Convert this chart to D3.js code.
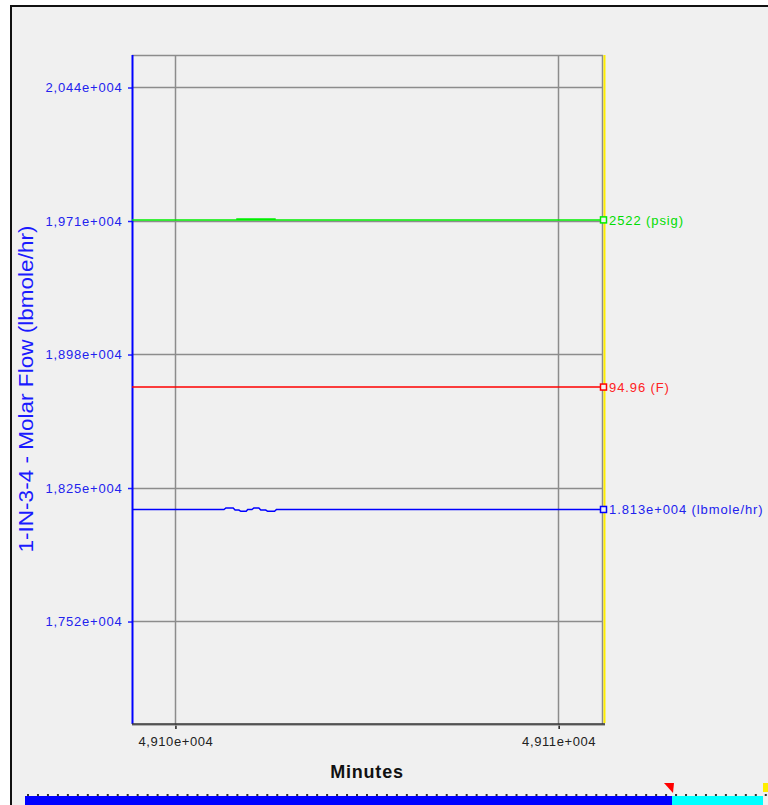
<!DOCTYPE html>
<html>
<head>
<meta charset="utf-8">
<script src="https://cdn.jsdelivr.net/npm/d3@7/dist/d3.min.js"></script>
<style>
  html, body { margin: 0; padding: 0; background: #ffffff; }
  svg { display: block; }
  text { font-family: "Liberation Sans", Arial, sans-serif; }
</style>
</head>
<body>
<svg id="chart" width="768" height="805"></svg>
<script>
// ---- data ----
const timeDomain = [49098.88, 49111.17];           // minutes shown in the window
const xTicks = [49100, 49110];
const xTickLabels = ["4,910e+004", "4,911e+004"];

const flowDomain = [16957, 20615];                  // lbmole/hr
const yTicks = [17520, 18250, 18980, 19710, 20440];
const yTickLabels = ["1,752e+004", "1,825e+004", "1,898e+004", "1,971e+004", "2,044e+004"];

// Molar flow (lbmole/hr)
const flowTimes  = [49098.88, 49101.28, 49101.33, 49101.52, 49101.57, 49101.67, 49101.72, 49101.86,
                    49101.90, 49102.01, 49102.06, 49102.19, 49102.24, 49102.37, 49102.42, 49102.60,
                    49102.65, 49111.17];
const flowValues = [18130, 18130, 18138, 18138, 18127, 18127, 18120, 18120,
                    18130, 18130, 18138, 18138, 18127, 18127, 18120, 18120,
                    18130, 18130];

// Pressure (psig): steady, with a short burst of fast flicker
const pressDomain = [0, 3347];
const pressTimes  = [49098.88,
  49101.62, 49101.62, 49101.65, 49101.65, 49101.68, 49101.68, 49101.71, 49101.71, 49101.74, 49101.74,
  49101.77, 49101.77, 49101.80, 49101.80, 49101.83, 49101.83, 49101.86, 49101.86, 49101.89, 49101.89,
  49101.92, 49101.92, 49101.95, 49101.95, 49101.98, 49101.98, 49102.01, 49102.01, 49102.04, 49102.04,
  49102.07, 49102.07, 49102.10, 49102.10, 49102.13, 49102.13, 49102.16, 49102.16, 49102.19, 49102.19,
  49102.22, 49102.22, 49102.25, 49102.25, 49102.28, 49102.28, 49102.31, 49102.31, 49102.34, 49102.34,
  49102.37, 49102.37, 49102.40, 49102.40, 49102.43, 49102.43, 49102.46, 49102.46, 49102.49, 49102.49,
  49102.52, 49102.52, 49102.55, 49102.55, 49102.58, 49102.58, 49102.61, 49102.61, 49102.64, 49102.64,
  49111.17];
const pressValues = [2522,
  2522, 2527, 2527, 2522, 2522, 2527, 2527, 2522, 2522, 2527,
  2527, 2522, 2522, 2527, 2527, 2522, 2522, 2527, 2527, 2522,
  2522, 2527, 2527, 2522, 2522, 2527, 2527, 2522, 2522, 2527,
  2527, 2522, 2522, 2527, 2527, 2522, 2522, 2527, 2527, 2522,
  2522, 2527, 2527, 2522, 2522, 2527, 2527, 2522, 2522, 2527,
  2527, 2522, 2522, 2527, 2527, 2522, 2522, 2527, 2527, 2522,
  2522, 2527, 2527, 2522, 2522, 2527, 2527, 2522, 2522, 2522,
  2522];

// Temperature (F)
const tempDomain = [79.85, 109.85];
const tempTimes  = [49098.88, 49111.17];
const tempValues = [94.96, 94.96];

const seriesLabels = ["2522 (psig)", "94.96 (F)", "1.813e+004 (lbmole/hr)"];
const yTitle = "1-IN-3-4 - Molar Flow (lbmole/hr)";
const xTitle = "Minutes";

// ---- layout ----
const svg = d3.select("#chart");
const plot = { left: 132, right: 603, top: 55, bottom: 724 };

// panel background with its top/left frame
svg.append("rect").attr("x", 11).attr("y", 6).attr("width", 757).attr("height", 799).attr("fill", "#f0f0f0");
svg.append("path").attr("d", "M11,805 V6 H768").attr("fill", "none").attr("stroke", "#111").attr("stroke-width", 2);

const x = d3.scaleLinear().domain(timeDomain).range([plot.left, plot.right]);
const yFlow = d3.scaleLinear().domain(flowDomain).range([plot.bottom, plot.top]);
const yPress = d3.scaleLinear().domain(pressDomain).range([plot.bottom, plot.top]);
const yTemp = d3.scaleLinear().domain(tempDomain).range([plot.bottom, plot.top]);

const gridColor = "#8c8c8c";

// grid
const grid = svg.append("g");
grid.selectAll(".hg").data(yTicks).join("line")
  .attr("x1", plot.left).attr("x2", plot.right)
  .attr("y1", d => Math.round(yFlow(d)) + 0.5).attr("y2", d => Math.round(yFlow(d)) + 0.5)
  .attr("stroke", gridColor).attr("stroke-width", 1.5);
grid.selectAll(".vg").data(xTicks).join("line")
  .attr("x1", d => Math.round(x(d)) + 0.5).attr("x2", d => Math.round(x(d)) + 0.5)
  .attr("y1", plot.top).attr("y2", plot.bottom)
  .attr("stroke", gridColor).attr("stroke-width", 1.5);
// top and right plot borders
grid.append("line").attr("x1", plot.left).attr("x2", plot.right).attr("y1", plot.top + 0.5).attr("y2", plot.top + 0.5)
  .attr("stroke", gridColor).attr("stroke-width", 1.5);
grid.append("line").attr("x1", plot.right - 0.5).attr("x2", plot.right - 0.5).attr("y1", plot.top).attr("y2", plot.bottom)
  .attr("stroke", gridColor).attr("stroke-width", 1.5);
// yellow cursor line at the right edge
grid.append("line").attr("x1", plot.right + 1.5).attr("x2", plot.right + 1.5).attr("y1", plot.top).attr("y2", plot.bottom - 1)
  .attr("stroke", "#ffee00").attr("stroke-width", 2);

// y axis (flow)
const yAxis = d3.axisLeft(yFlow).tickValues(yTicks).tickSize(4).tickPadding(5)
  .tickFormat((d, i) => yTickLabels[i]);
const gy = svg.append("g").attr("transform", `translate(${plot.left},0.5)`).call(yAxis);
gy.select(".domain").remove();
gy.selectAll(".tick line").attr("stroke", "#2020ff").attr("stroke-width", 1.5);
gy.selectAll(".tick text").attr("fill", "#2222ee").attr("font-size", 13).attr("letter-spacing", 0.8)
  .attr("font-family", "Liberation Sans, Arial, sans-serif").attr("dx", -0.5);
svg.append("line").attr("x1", plot.left + 0.5).attr("x2", plot.left + 0.5).attr("y1", plot.top).attr("y2", plot.bottom)
  .attr("stroke", "#0000ff").attr("stroke-width", 2);

// x axis
const xAxis = d3.axisBottom(x).tickValues(xTicks).tickSize(5).tickPadding(8)
  .tickFormat((d, i) => xTickLabels[i]);
const gx = svg.append("g").attr("transform", `translate(0.5,${plot.bottom})`).call(xAxis);
gx.select(".domain").remove();
gx.selectAll(".tick line").attr("stroke", "#222").attr("stroke-width", 1.5);
gx.selectAll(".tick text").attr("fill", "#222").attr("font-size", 13).attr("letter-spacing", 0.6)
  .attr("font-family", "Liberation Sans, Arial, sans-serif");
svg.append("line").attr("x1", plot.left).attr("x2", plot.right + 2).attr("y1", plot.bottom + 1).attr("y2", plot.bottom + 1)
  .attr("stroke", "#9a9a9a").attr("stroke-width", 1.5);
svg.append("line").attr("x1", plot.left).attr("x2", plot.right + 2).attr("y1", plot.bottom).attr("y2", plot.bottom)
  .attr("stroke", "#333").attr("stroke-width", 1.5);

// titles
svg.append("text").attr("x", 367).attr("y", 778).attr("text-anchor", "middle")
  .attr("font-size", 18).attr("font-weight", "bold").attr("letter-spacing", 0.8).attr("fill", "#111").text(xTitle);
svg.append("text").attr("transform", "translate(33,389) rotate(-90)").attr("text-anchor", "middle")
  .attr("font-size", 20).attr("fill", "#1a1aff")
  .attr("textLength", 327).attr("lengthAdjust", "spacingAndGlyphs").text(yTitle);

// series
const series = [
  { times: pressTimes, values: pressValues, scale: yPress, color: "#00ee00", text: "#00dd00", label: seriesLabels[0] },
  { times: tempTimes, values: tempValues, scale: yTemp, color: "#ff0000", text: "#ff2222", label: seriesLabels[1] },
  { times: flowTimes, values: flowValues, scale: yFlow, color: "#0000ff", text: "#2222ee", label: seriesLabels[2] }
];

series.forEach(s => {
  const pts = s.times.map((t, i) => [t, s.values[i]]);
  const line = d3.line().x(d => x(d[0])).y(d => s.scale(d[1]));
  svg.append("path").datum(pts).attr("d", line)
    .attr("fill", "none").attr("stroke", s.color).attr("stroke-width", 1.5);
  const last = pts[pts.length - 1];
  const ex = x(last[0]), ey = s.scale(last[1]);
  svg.append("rect").attr("x", ex - 2.5).attr("y", ey - 3).attr("width", 6).attr("height", 6)
    .attr("fill", "#f0f0f0").attr("stroke", s.color).attr("stroke-width", 1.5);
  svg.append("text").attr("x", ex + 6).attr("y", ey).attr("dy", "0.36em")
    .attr("font-size", 13).attr("letter-spacing", 0.9).attr("fill", s.text).text(s.label);
});

// time scroll bar at the bottom
const bar = d3.scaleLinear().domain([0, 1]).range([25, 763]);
const barSplit = 0.8767;
svg.append("rect").attr("x", bar(0)).attr("y", 796).attr("width", bar(barSplit) - bar(0)).attr("height", 9).attr("fill", "#0000ff");
svg.append("rect").attr("x", bar(barSplit)).attr("y", 796).attr("width", bar(1) - bar(barSplit)).attr("height", 9).attr("fill", "#00ffff");
svg.append("g").selectAll("rect").data(d3.range(0, 75)).join("rect")
  .attr("x", d => 27 + d * 9.97).attr("y", 794).attr("width", 2).attr("height", 2).attr("fill", "#333");
const sx = bar(barSplit);
svg.append("path").attr("d", `M${sx - 8},783 L${sx + 2},783 L${sx + 1},793 Z`).attr("fill", "#ff0000");
svg.append("rect").attr("x", 763).attr("y", 783).attr("width", 5).attr("height", 9).attr("fill", "#ffee00");
</script>
</body>
</html>
